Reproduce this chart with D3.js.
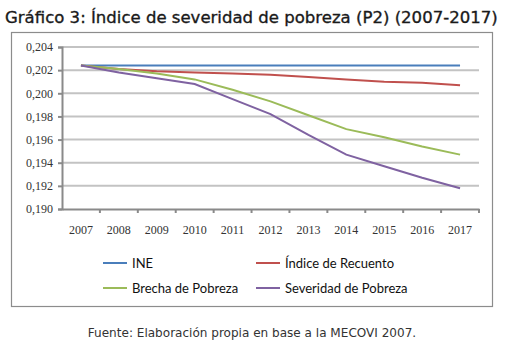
<!DOCTYPE html>
<html>
<head>
<meta charset="utf-8">
<script src="https://cdn.jsdelivr.net/npm/d3@7"></script>
<style>
  body { margin: 0; background: #fff; }
</style>
</head>
<body>
<svg id="viz"></svg>
<script>
// data
const years = ["2007","2008","2009","2010","2011","2012","2013","2014","2015","2016","2017"];
const ine        = [0.2024,0.2024,0.2024,0.2024,0.2024,0.2024,0.2024,0.2024,0.2024,0.2024,0.2024];
const recuento   = [0.2024,0.2021,0.2019,0.2018,0.2017,0.2016,0.2014,0.2012,0.2010,0.2009,0.2007];
const brecha     = [0.2024,0.2021,0.2017,0.2012,0.2003,0.1993,0.1981,0.1969,0.1962,0.1954,0.1947];
const severidad  = [0.2024,0.2018,0.2013,0.2008,0.1995,0.1982,0.1964,0.1947,0.1937,0.1927,0.1918];
const yTicks = [0.190,0.192,0.194,0.196,0.198,0.200,0.202,0.204];

const seriesNames = ["INE","Índice de Recuento","Brecha de Pobreza","Severidad de Pobreza"];
const seriesVals  = [ine, recuento, brecha, severidad];
const colors = ["#4a7ebb","#c0504d","#9bbb59","#7f62a1"];

const width = 506, height = 350;
const svg = d3.select("#viz").attr("width", width).attr("height", height);

// squeeze a text element to a given width by font size
function fitWidth(sel, base, w) {
  const tw = sel.node().getComputedTextLength();
  sel.attr("font-size", base * w / tw);
}

// title
const title = svg.append("text")
  .attr("x", 5).attr("y", 23)
  .attr("font-family", "'DejaVu Sans', sans-serif")
  .attr("font-size", 17)
  .attr("fill", "#1a1a1a")
  .attr("stroke", "#1a1a1a").attr("stroke-width", 0.35)
  .text("Gráfico 3: Índice de severidad de pobreza (P2) (2007-2017)");
fitWidth(title, 17, 493);

// chart frame
svg.append("rect")
  .attr("x", 11.5).attr("y", 32.5)
  .attr("width", 481).attr("height", 274)
  .attr("fill", "#fff").attr("stroke", "#8c8c8c").attr("stroke-width", 1.2);

const x = d3.scaleBand().domain(years).range([62, 479]);
const y = d3.scaleLinear().domain([0.190, 0.204]).range([209, 47]);
const fmt = v => d3.format(".3f")(v).replace(".", ",");

// gridlines
svg.append("g").selectAll("line")
  .data(yTicks.slice(1))
  .enter().append("line")
  .attr("x1", 62).attr("x2", 479)
  .attr("y1", d => y(d)).attr("y2", d => y(d))
  .attr("stroke", "#c3c3c3").attr("stroke-width", 2);

// y axis
const yAxis = svg.append("g")
  .attr("transform", "translate(62,0)")
  .call(d3.axisLeft(y).tickValues(yTicks).tickFormat(fmt).tickSize(4).tickPadding(5));
yAxis.select(".domain").attr("stroke", "#8a8a8a").attr("stroke-width", 2);
yAxis.selectAll(".tick line").attr("stroke", "#8a8a8a").attr("stroke-width", 2);
yAxis.selectAll("text")
  .attr("font-family", "'Liberation Serif', serif")
  .attr("font-size", 12).attr("fill", "#333");

// x axis, ticks between categories
const xAxis = svg.append("g")
  .attr("transform", "translate(0,209)")
  .call(d3.axisBottom(x).tickSize(0).tickPadding(16));
xAxis.select(".domain").attr("stroke", "#8a8a8a").attr("stroke-width", 2);
xAxis.selectAll("text")
  .attr("font-family", "'Liberation Serif', serif")
  .attr("font-size", 12).attr("fill", "#333");
xAxis.selectAll(".sep")
  .data(years)
  .enter().append("line")
  .attr("class", "sep")
  .attr("x1", d => x(d) + x.bandwidth())
  .attr("x2", d => x(d) + x.bandwidth())
  .attr("y1", 0).attr("y2", 4)
  .attr("stroke", "#8a8a8a").attr("stroke-width", 2);

// lines
const line = d3.line()
  .x((d, i) => x(years[i]) + x.bandwidth() / 2)
  .y(d => y(d));

svg.append("g").selectAll("path")
  .data(seriesVals)
  .enter().append("path")
  .attr("d", line)
  .attr("fill", "none")
  .attr("stroke", (d, i) => colors[i])
  .attr("stroke-width", 2);

// legend
const legPos = [[103, 263], [256, 263], [103, 288], [256, 288]];
const leg = svg.append("g").selectAll("g")
  .data(seriesNames)
  .enter().append("g")
  .attr("transform", (d, i) => "translate(" + legPos[i] + ")");
leg.append("line")
  .attr("x1", 0).attr("x2", 24)
  .attr("stroke", (d, i) => colors[i]).attr("stroke-width", 2);
leg.append("text")
  .attr("x", 29).attr("y", 4.5)
  .attr("font-family", "Lato, sans-serif")
  .attr("font-size", 13).attr("fill", "#111")
  .text(d => d);

// source
const src = svg.append("text")
  .attr("x", 252).attr("y", 337)
  .attr("text-anchor", "middle")
  .attr("font-family", "'DejaVu Sans', sans-serif")
  .attr("font-size", 11.5)
  .attr("fill", "#333")
  .text("Fuente: Elaboración propia en base a la MECOVI 2007.");
fitWidth(src, 11.5, 329);
</script>
</body>
</html>
